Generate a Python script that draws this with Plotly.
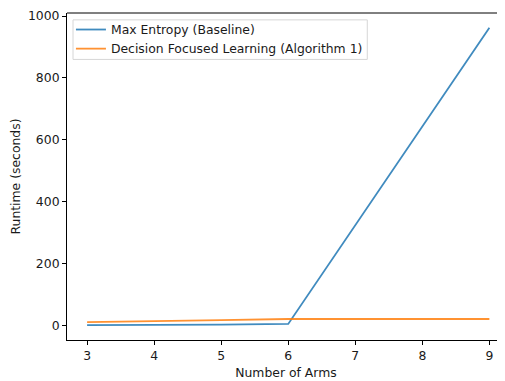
import plotly.graph_objects as go

arms = [3, 4, 5, 6, 7, 8, 9]
max_entropy = [0, 0.5, 1.5, 4, 323, 642, 962]
dfl = [10, 12, 16, 20, 20, 20, 20]
x_ticks = [3, 4, 5, 6, 7, 8, 9]
y_ticks = [0, 200, 400, 600, 800, 1000]

font = dict(family="DejaVu Sans", size=12.4, color="#1a1a1a")

fig = go.Figure()
fig.add_trace(go.Scatter(x=arms, y=max_entropy, mode="lines",
                         name="Max Entropy (Baseline)", opacity=0.85,
                         line=dict(color="#1f77b4", width=1.8)))
fig.add_trace(go.Scatter(x=arms, y=dfl, mode="lines",
                         name="Decision Focused Learning (Algorithm 1)", opacity=0.85,
                         line=dict(color="#ff7f0e", width=1.8)))

# page body has an 8px margin, so the figure is shifted by 8px
fig.update_layout(
    width=497, height=373,
    margin=dict(l=58, r=0, t=2, b=41),
    paper_bgcolor="white", plot_bgcolor="white",
    font=font,
    showlegend=True,
    legend=dict(x=0.009, y=0.994, xanchor="left", yanchor="top",
                bgcolor="rgba(0,0,0,0)", borderwidth=0, font=font,
                tracegroupgap=0, itemwidth=30),
    xaxis=dict(range=[2.7, 9.233], tickvals=x_ticks, showgrid=False, zeroline=False,
               showline=True, linecolor="black", linewidth=1,
               ticks="outside", ticklen=4, tickcolor="black",
               ticklabeloverflow="allow",
               title=dict(text="Number of Arms", font=font, standoff=6)),
    yaxis=dict(range=[-48, 1010], tickvals=y_ticks, showgrid=False, zeroline=False,
               showline=True, linecolor="black", linewidth=1,
               ticks="outside", ticklen=4, tickcolor="black",
               ticklabeloverflow="allow",
               title=dict(text="Runtime (seconds)", font=font, standoff=11)),
    shapes=[
        dict(type="line", xref="paper", yref="paper", x0=0, x1=1, y0=1, y1=1,
             line=dict(color="black", width=1)),
        dict(type="rect", xref="paper", yref="paper", x0=0.0137, x1=0.6856,
             y0=0.858, y1=0.979, layer="above",
             fillcolor="rgba(255,255,255,0.8)", line=dict(color="#d6d6d6", width=1)),
    ],
)

fig.write_html("out.html")
